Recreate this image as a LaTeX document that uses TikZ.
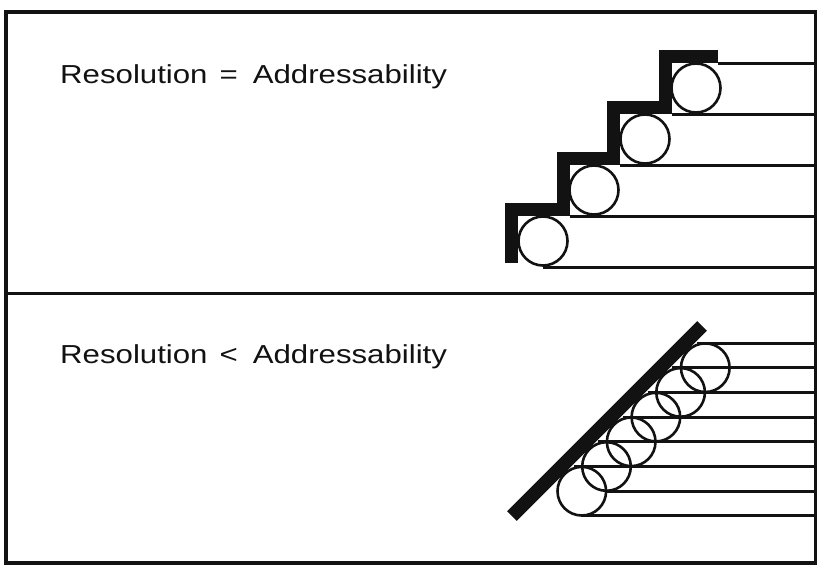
\documentclass[tikz,border=0pt]{standalone}
\usepackage{fontspec}
\newfontfamily\capfont[FakeStretch=1.2]{Liberation Sans}
\definecolor{inkblack}{RGB}{18,18,18}
\usepackage{tikz}
\tikzset{
  frame/.style={draw=inkblack, line width=3.2pt},
  scanline/.style={draw=inkblack, line width=3pt},
  spot/.style={draw=inkblack, line width=2.6pt},
  edgebar/.style={draw=inkblack, line width=13.5pt, line cap=butt, line join=miter},
  caption/.style={font=\capfont\fontsize{26}{31}\selectfont, text=inkblack,
                  anchor=base west, inner sep=0pt},
}

\begin{document}
\begin{tikzpicture}[x=1pt, y=-1pt]
  \useasboundingbox (0,0) rectangle (817,565);
  \fill[white] (0,0) rectangle (817,565);

  % Outer frame and divider
  \draw[frame] (6,12) rectangle (815.5,563);
  \draw[frame, line width=3.6pt] (6,293.3) -- (815.5,293.3);

  % Panel captions
  \node[caption] (eqlabel) at (60,83)
    {Resolution\hspace{12pt}=\hspace{15pt}Addressability};
  \node[caption] (ltlabel) at (60,363)
    {Resolution\hspace{12pt}<\hspace{15pt}Addressability};

  % Upper panel: scan lines, spots, stepped edge
  \foreach \y/\x in {63/718, 114/672, 165/620, 216/570, 267/543}
    \draw[scanline] (\x,\y) -- (815.5,\y);
  \foreach \x/\y in {543/241, 594/190, 645/139, 696/88}
    \draw[spot] (\x,\y) circle [radius=24.5pt];
  \draw[edgebar] (511.5,263) |- (563.5,209.5) |- (613.5,158.5)
    |- (665.5,107.5) |- (718,56.5);

  % Lower panel: dense scan lines, overlapping spots, diagonal edge
  \foreach \k in {0,...,5} {
    \pgfmathsetmacro\y{343+24.7*\k}
    \draw[scanline] ({1040-\y},\y) -- (815.5,\y);
  }
  \draw[scanline] (606,491.2) -- (815.5,491.2);
  \draw[scanline] (582,515.9) -- (815.5,515.9);
  \foreach \k in {1,...,6} {
    \pgfmathsetmacro\y{343+24.7*\k}
    \draw[spot] ({1073-\y},\y) circle [radius=24.3pt];
  }
  \draw[edgebar] (512,516) -- (702,326);

\end{tikzpicture}
\end{document}
